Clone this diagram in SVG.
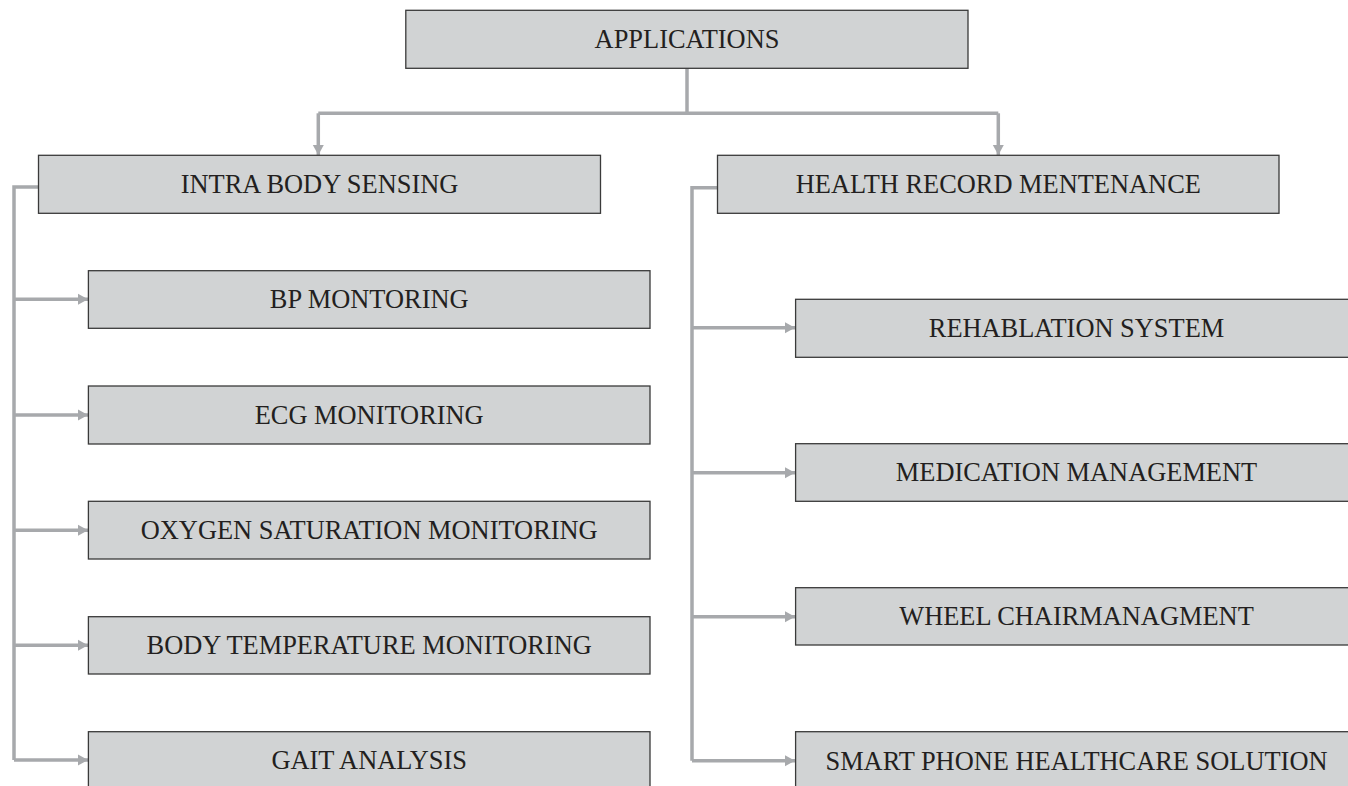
<svg xmlns="http://www.w3.org/2000/svg" width="1348" height="786" viewBox="0 0 1348 786">
<style>
.box{fill:#d1d3d4;stroke:#3a3a3a;stroke-width:1.3}
.lbl{font-family:"Liberation Serif","Times New Roman",serif;font-size:26.4px;fill:#231f20;text-anchor:middle}
.con{fill:none;stroke:#a7a9ac;stroke-width:3.5}
</style>
<defs>
<marker id="arr" markerUnits="userSpaceOnUse" markerWidth="12" markerHeight="12" refX="10" refY="6" orient="auto" viewBox="0 0 12 12">
<path d="M0,0.5 L10,6 L0,11.5 z" fill="#a7a9ac"/>
</marker>
</defs>
<rect width="1348" height="786" fill="#ffffff"/>
<g id="connectors">
<path class="con" d="M687,68 V113.3"/>
<path class="con" d="M318.3,113.3 H998.3"/>
<path class="con" d="M318.3,113.3 V155" marker-end="url(#arr)"/>
<path class="con" d="M998.3,113.3 V155" marker-end="url(#arr)"/>
<path class="con" d="M38.5,187 H14 V760"/>
<path class="con" d="M14,299.3 H88" marker-end="url(#arr)"/>
<path class="con" d="M14,415 H88" marker-end="url(#arr)"/>
<path class="con" d="M14,530.3 H88" marker-end="url(#arr)"/>
<path class="con" d="M14,645.3 H88" marker-end="url(#arr)"/>
<path class="con" d="M14,760 H88" marker-end="url(#arr)"/>
<path class="con" d="M717.5,187.7 H692 V760.7"/>
<path class="con" d="M692,327.7 H795" marker-end="url(#arr)"/>
<path class="con" d="M692,472.7 H795" marker-end="url(#arr)"/>
<path class="con" d="M692,616.7 H795" marker-end="url(#arr)"/>
<path class="con" d="M692,760.7 H795" marker-end="url(#arr)"/>
</g>
<g id="applications"><rect class="box" x="405.8" y="10.3" width="562.2" height="58"/><text class="lbl" x="687" y="48">APPLICATIONS</text></g>
<g id="intra"><rect class="box" x="38.5" y="155.3" width="562" height="58"/><text class="lbl" x="319.5" y="192.8">INTRA BODY SENSING</text></g>
<g id="health"><rect class="box" x="717.5" y="155.3" width="561.5" height="58"/><text class="lbl" x="998.3" y="192.8">HEALTH RECORD MENTENANCE</text></g>
<g id="bp"><rect class="box" x="88.4" y="270.7" width="561.6" height="57.6"/><text class="lbl" x="369.2" y="308">BP MONTORING</text></g>
<g id="ecg"><rect class="box" x="88.4" y="386" width="561.6" height="58"/><text class="lbl" x="369.2" y="423.5">ECG MONITORING</text></g>
<g id="oxygen"><rect class="box" x="88.4" y="501.3" width="561.6" height="57.7"/><text class="lbl" x="369.2" y="538.8">OXYGEN SATURATION MONITORING</text></g>
<g id="bodytemp"><rect class="box" x="88.4" y="616.7" width="561.6" height="57.3"/><text class="lbl" x="369.2" y="654">BODY TEMPERATURE MONITORING</text></g>
<g id="gait"><rect class="box" x="88.4" y="731.7" width="561.6" height="70"/><text class="lbl" x="369.2" y="769">GAIT ANALYSIS</text></g>
<g id="rehab"><rect class="box" x="795.6" y="299.3" width="562" height="58"/><text class="lbl" x="1076.5" y="336.8">REHABLATION SYSTEM</text></g>
<g id="medication"><rect class="box" x="795.6" y="443.7" width="562" height="57.6"/><text class="lbl" x="1076.5" y="481">MEDICATION MANAGEMENT</text></g>
<g id="wheelchair"><rect class="box" x="795.6" y="587.7" width="562" height="57.3"/><text class="lbl" x="1076.5" y="625">WHEEL CHAIRMANAGMENT</text></g>
<g id="smartphone"><rect class="box" x="795.6" y="731.7" width="562" height="70"/><text class="lbl" x="1076.5" y="769.5">SMART PHONE HEALTHCARE SOLUTION</text></g>
</svg>
